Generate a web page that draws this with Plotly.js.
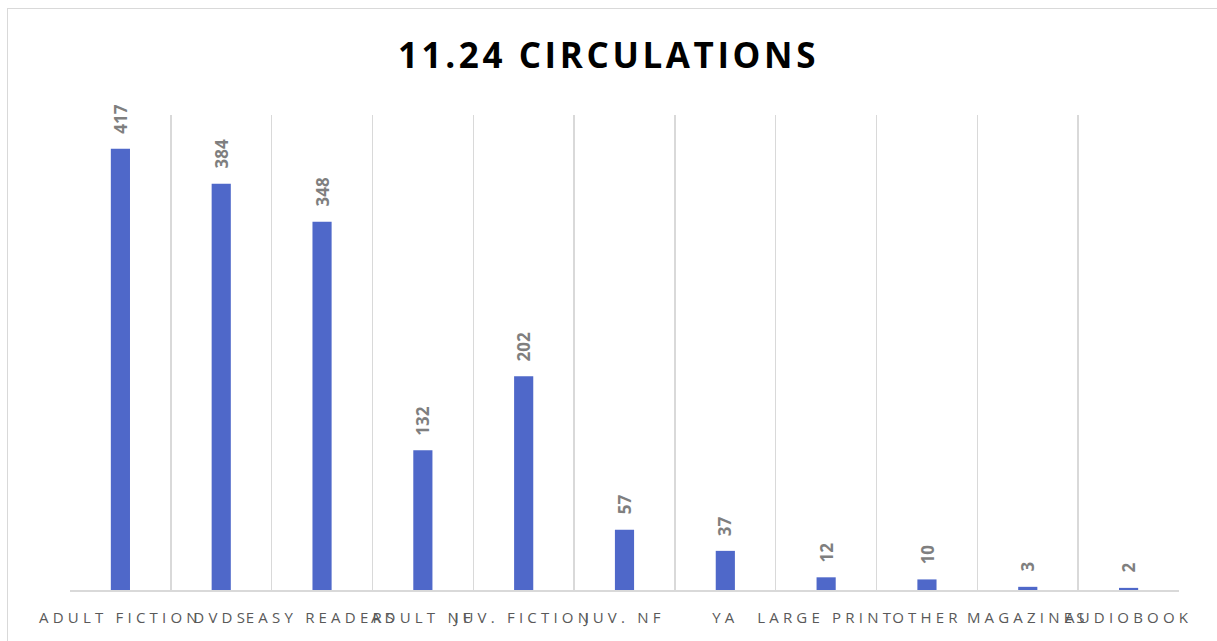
<!DOCTYPE html>
<html>
<head>
<meta charset="utf-8">
<script src="https://cdn.plot.ly/plotly-3.0.1.min.js"></script>
<style>
  html, body { margin: 0; padding: 0; background: #fff; }
  #frame { position: absolute; left: 7px; top: 8px; width: 1240px; height: 700px; border: 1.5px solid #d9d9d9; box-sizing: border-box; pointer-events: none; z-index: 2; }
  #chart { position: absolute; left: 0; top: 0; width: 1217px; height: 641px; }
  .xtick text { letter-spacing: 4.2px; }
  .gtitle { letter-spacing: 3.6px; }
</style>
</head>
<body>
<div id="chart"></div>
<div id="frame"></div>
<script>
const categories = ["ADULT FICTION", "DVDS", "EASY READERS", "ADULT NF", "JUV. FICTION", "JUV. NF", "YA", "LARGE PRINT", "OTHER", "MAGAZINES", "AUDIOBOOK"];
const circulations = [417, 384, 348, 132, 202, 57, 37, 12, 10, 3, 2];
const chartTitle = "11.24 CIRCULATIONS";

const trace = {
  type: "bar",
  x: categories,
  y: circulations,
  marker: { color: "#4f68c9" },
  hoverinfo: "x+y"
};

const labels = categories.map((c, i) => ({
  x: c,
  y: circulations[i],
  xref: "x",
  yref: "y",
  text: "<b>" + circulations[i] + "</b>",
  textangle: -90,
  showarrow: false,
  xanchor: "center",
  yanchor: "bottom",
  yshift: 13,
  font: { family: "Open Sans, Liberation Sans, sans-serif", size: 17, color: "#7f7f7f" }
}));

const layout = {
  width: 1217,
  height: 641,
  margin: { l: 70, r: 38, t: 115, b: 51 },
  paper_bgcolor: "#ffffff",
  plot_bgcolor: "#ffffff",
  bargap: 0.81,
  showlegend: false,
  annotations: labels,
  title: {
    text: "<b>" + chartTitle + "</b>",
    font: { family: "Open Sans, Liberation Sans, sans-serif", size: 35, color: "#000000" },
    x: 0.5, xanchor: "center",
    y: 0.913, yanchor: "middle"
  },
  xaxis: {
    type: "category",
    tickson: "boundaries",
    showgrid: true,
    gridcolor: "#d9d9d9",
    gridwidth: 1.5,
    showline: true,
    linecolor: "#d9d9d9",
    linewidth: 1.5,
    ticks: "",
    ticklabelstandoff: 13,
    tickfont: { family: "Open Sans, Liberation Sans, sans-serif", size: 15, color: "#595959" },
    tickangle: 0,
    automargin: false
  },
  yaxis: {
    range: [0, 449],
    showgrid: false,
    showline: false,
    zeroline: false,
    showticklabels: false,
    ticks: ""
  }
};

Plotly.newPlot("chart", [trace], layout, { displayModeBar: false, staticPlot: true });
</script>
</body>
</html>
